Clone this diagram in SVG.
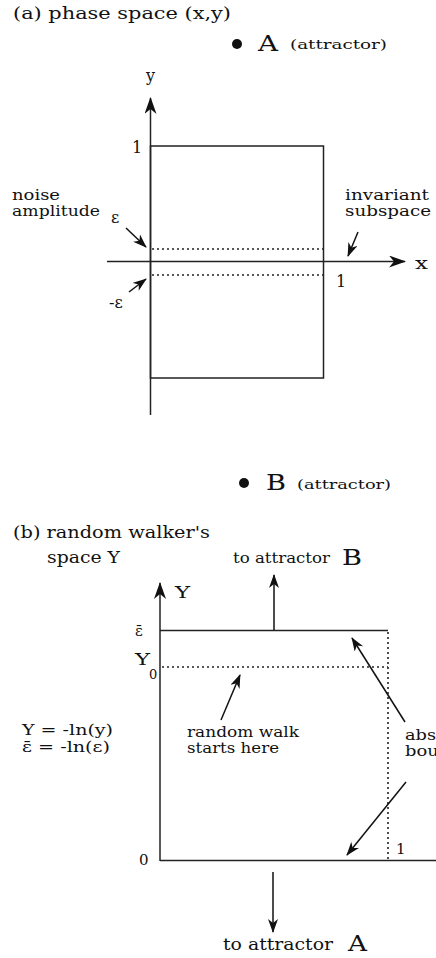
<svg xmlns="http://www.w3.org/2000/svg" width="436" height="958" viewBox="0 0 436 958">
<style>
text{font-family:"DejaVu Serif","Liberation Serif",serif;fill:#111}
.t15{font-size:15px}
.t16{font-size:16px}
.t13{font-size:13px}
.big{font-size:23px}
.ln{stroke:#222;stroke-width:1.5;fill:none}
.dot{stroke:#222;stroke-width:1.6;fill:none;stroke-dasharray:2 3}
.ptr{stroke:#111;stroke-width:1.5;fill:none}
</style>
<defs>
<marker id="ah" markerUnits="userSpaceOnUse" markerWidth="18" markerHeight="13" refX="16" refY="6" orient="auto">
<path d="M0,0 L17,6 L0,12 L5,6 Z" fill="#111"/>
</marker>
<marker id="as" markerUnits="userSpaceOnUse" markerWidth="15" markerHeight="11" refX="13" refY="5" orient="auto">
<path d="M0,0 L14,5 L0,10 L4,5 Z" fill="#111"/>
</marker>
</defs>

<g id="title-a"><text class="t16" x="13" y="19" textLength="218" lengthAdjust="spacingAndGlyphs">(a) phase space (x,y)</text></g>

<g id="attractor-A">
<circle cx="237" cy="44" r="5" fill="#111"/>
<text class="big" x="258" y="51" textLength="20" lengthAdjust="spacingAndGlyphs">A</text>
<text class="t13" x="290" y="49" textLength="97" lengthAdjust="spacingAndGlyphs">(attractor)</text>
</g>

<g id="phase-box">
<rect x="150.5" y="146" width="173" height="232" class="ln"/>
<text class="t16" x="132" y="153">1</text>
<text class="t16" x="336" y="287">1</text>
</g>

<g id="noise-band">
<line x1="152" y1="249" x2="323" y2="249" class="dot"/>
<line x1="152" y1="275" x2="323" y2="275" class="dot"/>
<text class="t15" x="12" y="200" textLength="48" lengthAdjust="spacingAndGlyphs">noise</text>
<text class="t15" x="12" y="216" textLength="88" lengthAdjust="spacingAndGlyphs">amplitude</text>
<text class="t16" x="111" y="223">ε</text>
<text class="t16" x="109" y="308">-ε</text>
</g>

<g id="invariant-label">
<text class="t15" x="345" y="200" textLength="84" lengthAdjust="spacingAndGlyphs">invariant</text>
<text class="t15" x="345" y="216" textLength="86" lengthAdjust="spacingAndGlyphs">subspace</text>
</g>

<g id="axes-a">
<text class="t16" x="146" y="81">y</text>
<text class="t16" x="415" y="269" textLength="13" lengthAdjust="spacingAndGlyphs">x</text>
</g>

<g id="attractor-B">
<circle cx="244" cy="483" r="5" fill="#111"/>
<text class="big" x="266" y="490" textLength="20" lengthAdjust="spacingAndGlyphs">B</text>
<text class="t13" x="297" y="489" textLength="94" lengthAdjust="spacingAndGlyphs">(attractor)</text>
</g>

<g id="title-b">
<text class="t16" x="13" y="538" textLength="197" lengthAdjust="spacingAndGlyphs">(b) random walker's</text>
<text class="t16" x="47" y="563" textLength="73" lengthAdjust="spacingAndGlyphs">space Y</text>
</g>

<g id="walker-box">
<text class="t16" x="175" y="598" textLength="15" lengthAdjust="spacingAndGlyphs">Y</text>
<text class="t15" x="135" y="636">ε̄</text>
<text class="t16" x="135" y="665" textLength="15" lengthAdjust="spacingAndGlyphs">Y</text>
<text class="t13" x="149" y="679">0</text>
<text class="t15" x="139" y="865">0</text>
<text class="t15" x="396" y="854">1</text>
<line x1="162" y1="667" x2="388" y2="667" class="dot"/>
<line x1="388" y1="632" x2="388" y2="860" class="dot"/>
</g>

<g id="formulas">
<text class="t15" x="22" y="735" textLength="91" lengthAdjust="spacingAndGlyphs">Y = -ln(y)</text>
<text class="t15" x="22" y="752" textLength="88" lengthAdjust="spacingAndGlyphs">ε̄ = -ln(ε)</text>
</g>

<g id="start-label">
<text class="t15" x="187" y="737" textLength="112" lengthAdjust="spacingAndGlyphs">random walk</text>
<text class="t15" x="187" y="753" textLength="92" lengthAdjust="spacingAndGlyphs">starts here</text>
</g>

<g id="absorbing-label">
<text class="t15" x="405" y="740" textLength="90" lengthAdjust="spacingAndGlyphs">absorbing</text>
<text class="t15" x="405" y="756" textLength="86" lengthAdjust="spacingAndGlyphs">boundary</text>
</g>

<g id="to-B">
<text class="t15" x="233" y="563" textLength="97" lengthAdjust="spacingAndGlyphs">to attractor</text>
<text class="big" x="342" y="565" textLength="20" lengthAdjust="spacingAndGlyphs">B</text>
</g>

<g id="to-A">
<text class="t16" x="223" y="950" textLength="110" lengthAdjust="spacingAndGlyphs">to attractor</text>
<text class="big" x="348" y="951" textLength="19" lengthAdjust="spacingAndGlyphs">A</text>
</g>

<g id="connectors">
<line x1="150.5" y1="415" x2="150.5" y2="98" class="ln" marker-end="url(#ah)"/>
<line x1="107" y1="261.5" x2="405" y2="261.5" class="ln" marker-end="url(#ah)"/>
<line x1="126" y1="228" x2="146" y2="247" class="ptr" marker-end="url(#as)"/>
<line x1="129" y1="292" x2="146" y2="279" class="ptr" marker-end="url(#as)"/>
<line x1="358" y1="232" x2="348" y2="256" class="ptr" marker-end="url(#as)"/>
<line x1="160" y1="861" x2="160" y2="583" class="ln" marker-end="url(#ah)"/>
<line x1="160" y1="630.5" x2="388" y2="630.5" class="ln"/>
<line x1="160" y1="860.5" x2="436" y2="860.5" class="ln"/>
<line x1="274" y1="630" x2="274" y2="575" class="ptr" stroke-width="1" marker-end="url(#as)"/>
<line x1="273" y1="872" x2="273" y2="932" class="ptr" stroke-width="1" marker-end="url(#as)"/>
<line x1="221" y1="720" x2="240" y2="675" class="ptr" marker-end="url(#as)"/>
<line x1="405" y1="722" x2="352" y2="638" class="ptr" marker-end="url(#as)"/>
<line x1="406" y1="782" x2="347" y2="855" class="ptr" marker-end="url(#as)"/>
</g>
</svg>
